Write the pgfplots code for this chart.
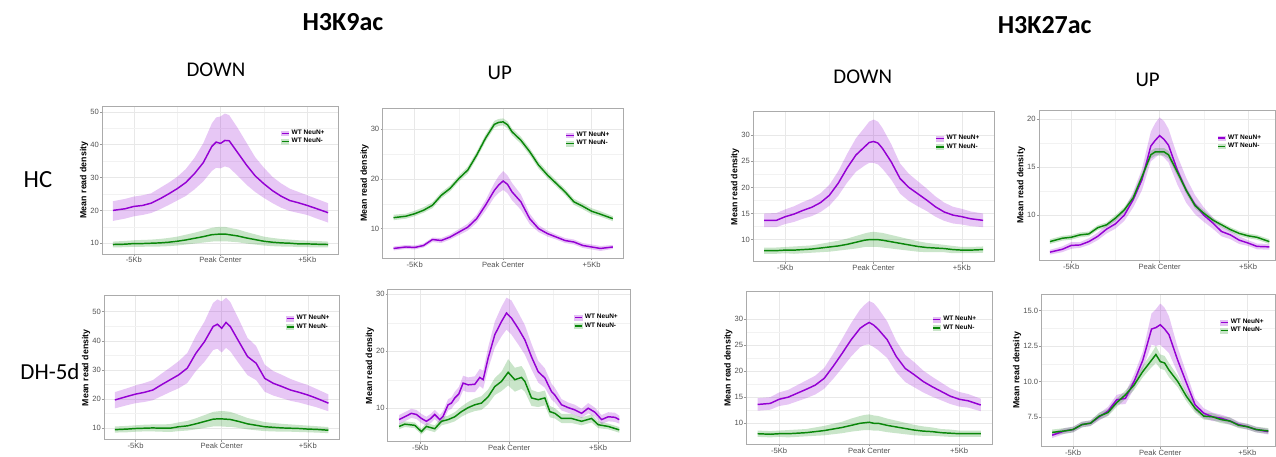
\documentclass[border=0pt]{standalone}
\usepackage{fontspec}
\setmainfont{Liberation Sans}
\newfontfamily\calibri{Carlito}
\newfontfamily\arial{Liberation Sans}
\usepackage{pgfplots}
\usepgfplotslibrary{fillbetween}
\usepackage{pgfplotstable}
\pgfplotsset{compat=1.18}
\definecolor{vio}{RGB}{148,0,211}
\definecolor{grn}{RGB}{10,135,10}

% ---------------- data: x, mean, lower, upper ----------------
\pgfplotstableread{
x m lo hi
-6200 20.0 16.8 22.8
-5500 20.5 17.5 23.5
-5000 21.2 18.2 24.2
-4500 21.5 18.6 24.6
-4000 22.2 19.2 25.2
-3500 23.5 20.3 26.8
-3000 25.0 21.6 28.4
-2500 26.6 23.0 30.2
-2000 28.5 24.4 32.6
-1500 31.2 26.4 36.0
-1000 34.5 28.8 40.4
-500 39.5 32.0 46.5
-250 40.8 33.0 48.3
0 40.4 32.8 48.6
250 41.3 33.4 49.5
500 41.2 33.0 49.0
1000 37.5 30.5 45.0
1500 33.8 27.8 40.6
2000 30.5 25.6 36.2
2500 28.1 23.8 33.0
3000 26.0 22.2 30.2
3500 24.3 20.8 28.2
4000 23.0 19.8 26.6
4500 22.3 19.2 25.6
5000 21.5 18.6 24.6
5500 20.6 17.6 23.6
6200 19.3 16.3 22.2
}\tAp
\pgfplotstableread{
x m lo hi
-6200 9.6 8.7 10.5
-5500 9.7 8.8 10.7
-5000 9.9 8.9 10.9
-4500 9.9 8.9 11.0
-4000 10.0 9.0 11.1
-3500 10.1 9.0 11.3
-3000 10.3 9.1 11.6
-2500 10.6 9.3 12.0
-2000 11.0 9.6 12.6
-1500 11.5 9.9 13.2
-1000 12.0 10.2 13.9
-500 12.6 10.5 14.7
-250 12.7 10.6 14.9
0 12.8 10.6 15.0
250 12.8 10.6 15.0
500 12.6 10.5 14.7
1000 12.2 10.3 14.2
1500 11.6 9.9 13.4
2000 11.1 9.6 12.7
2500 10.6 9.3 12.0
3000 10.3 9.1 11.6
3500 10.1 9.0 11.3
4000 10.0 9.0 11.1
4500 9.8 8.8 10.9
5000 9.8 8.8 10.8
5500 9.7 8.7 10.7
6200 9.6 8.7 10.5
}\tAg
\pgfplotstableread{
x m lo hi
-6200 6.0 5.6 6.4
-5500 6.3 5.9 6.7
-5000 6.2 5.8 6.6
-4500 6.6 6.2 7.0
-4000 7.8 7.3 8.2
-3500 7.6 7.1 8.1
-3000 8.3 7.8 8.8
-2500 9.3 8.7 9.9
-2000 10.3 9.6 11.0
-1500 12.0 11.2 12.8
-1000 14.7 13.6 15.7
-500 17.7 16.3 19.2
-250 18.8 17.2 20.6
0 19.6 17.8 21.6
250 18.9 17.1 20.7
500 17.4 15.7 19.2
1000 15.4 13.8 16.9
1500 12.0 10.9 13.0
2000 10.0 9.3 10.7
2500 9.0 8.4 9.6
3000 8.3 7.8 8.8
3500 7.6 7.1 8.1
4000 7.3 6.8 7.8
4500 6.6 6.1 7.1
5000 6.3 5.8 6.8
5500 6.0 5.5 6.5
6200 6.3 5.9 6.7
}\tBp
\pgfplotstableread{
x m lo hi
-6200 12.2 11.7 12.8
-5500 12.5 12.0 13.0
-5000 13.0 12.5 13.6
-4500 13.7 13.2 14.3
-4000 14.7 14.1 15.3
-3500 16.7 16.1 17.3
-3000 18.1 17.5 18.7
-2500 20.1 19.5 20.7
-2000 21.8 21.1 22.5
-1500 24.8 24.1 25.5
-1000 28.2 27.5 28.9
-500 31.0 30.3 31.7
-250 31.4 30.7 32.1
0 31.5 30.8 32.2
250 30.9 30.2 31.6
500 29.5 28.8 30.2
1000 27.8 27.1 28.5
1500 25.5 24.8 26.2
2000 22.8 22.1 23.5
2500 20.8 20.2 21.5
3000 19.1 18.5 19.7
3500 17.4 16.8 18.0
4000 15.4 14.8 16.0
4500 14.5 13.9 15.1
5000 13.5 12.9 14.1
5500 12.9 12.4 13.5
6200 12.0 11.5 12.5
}\tBg
\pgfplotstableread{
x m lo hi
-6200 13.7 12.4 15.0
-5500 13.7 12.4 15.1
-5000 14.4 13.0 15.8
-4500 14.9 13.4 16.4
-4000 15.6 14.0 17.2
-3500 16.2 14.5 17.9
-3000 17.1 15.3 18.9
-2500 18.5 16.5 20.5
-2000 20.8 18.4 23.1
-1500 23.7 20.9 26.4
-1000 26.2 23.0 29.4
-500 27.8 24.2 31.5
-250 28.6 24.7 32.6
0 28.8 24.7 33.0
250 28.5 24.4 32.6
500 27.5 23.6 31.4
1000 24.9 21.5 28.3
1500 21.7 18.8 24.6
2000 20.0 17.4 22.6
2500 18.8 16.4 21.2
3000 17.6 15.5 19.8
3500 16.3 14.4 18.3
4000 15.3 13.6 17.1
4500 14.7 13.1 16.3
5000 14.4 12.9 15.9
5500 14.0 12.6 15.4
6200 13.7 12.4 15.0
}\tCp
\pgfplotstableread{
x m lo hi
-6200 7.9 7.3 8.5
-5500 7.9 7.3 8.5
-5000 8.0 7.4 8.6
-4500 8.0 7.3 8.7
-4000 8.1 7.4 8.8
-3500 8.2 7.5 8.9
-3000 8.4 7.6 9.2
-2500 8.6 7.7 9.5
-2000 8.8 7.9 9.8
-1500 9.1 8.1 10.2
-1000 9.5 8.3 10.7
-500 9.9 8.6 11.2
-250 10.0 8.6 11.4
0 10.0 8.6 11.5
250 10.0 8.6 11.4
500 9.9 8.5 11.3
1000 9.6 8.3 10.9
1500 9.3 8.1 10.5
2000 9.0 7.9 10.1
2500 8.7 7.7 9.7
3000 8.5 7.6 9.4
3500 8.4 7.6 9.2
4000 8.3 7.6 9.0
4500 8.1 7.4 8.8
5000 8.0 7.4 8.6
5500 8.0 7.4 8.6
6200 8.1 7.5 8.7
}\tCg
\pgfplotstableread{
x m lo hi
-6200 6.15 5.9 6.4
-5500 6.45 6.15 6.75
-5000 6.85 6.5 7.2
-4500 6.9 6.6 7.2
-4000 7.25 6.9 7.6
-3500 7.8 7.4 8.2
-3000 8.55 8.1 9.0
-2500 9.1 8.6 9.6
-2000 10.0 9.4 10.6
-1500 11.6 10.8 12.4
-1000 13.7 12.6 14.8
-500 17.2 15.6 18.7
-250 17.8 16.0 19.6
0 18.3 16.4 20.2
250 17.9 16.0 19.8
500 17.3 15.5 19.0
1000 14.7 13.2 16.2
1500 12.6 11.3 13.9
2000 11.1 10.1 12.1
2500 10.0 9.3 10.8
3000 9.2 8.6 9.8
3500 8.3 7.8 8.8
4000 7.95 7.5 8.4
4500 7.4 7.0 7.8
5000 7.1 6.8 7.4
5500 6.75 6.45 7.05
6200 6.7 6.4 7.0
}\tDp
\pgfplotstableread{
x m lo hi
-6200 7.25 7.0 7.5
-5500 7.6 7.35 7.85
-5000 7.7 7.45 7.95
-4500 7.95 7.7 8.2
-4000 8.05 7.8 8.3
-3500 8.7 8.45 8.95
-3000 9.0 8.75 9.25
-2500 9.7 9.4 10.0
-2000 10.55 10.25 10.85
-1500 11.8 11.45 12.15
-1000 14.0 13.6 14.4
-500 16.3 15.9 16.7
-250 16.6 16.2 17.0
0 16.6 16.2 17.0
250 16.6 16.2 17.0
500 16.3 15.9 16.7
1000 14.5 14.1 14.9
1500 12.6 12.25 12.95
2000 11.0 10.7 11.3
2500 10.2 9.9 10.5
3000 9.5 9.25 9.75
3500 9.0 8.75 9.25
4000 8.5 8.25 8.75
4500 8.1 7.85 8.35
5000 7.85 7.6 8.1
5500 7.7 7.45 7.95
6200 7.25 7.0 7.5
}\tDg
\pgfplotstableread{
x m lo hi
-6200 19.7 16.8 22.4
-5500 20.9 17.9 23.7
-5000 21.7 18.6 24.7
-4500 22.3 19.0 25.5
-4000 23.1 19.6 26.5
-3500 24.9 21.0 28.7
-3000 26.6 22.4 30.8
-2500 28.3 23.7 33.0
-2000 30.6 25.5 35.8
-1500 35.7 29.6 41.7
-1000 39.7 32.8 46.6
-500 44.9 36.8 53.0
-250 45.7 37.3 54.2
0 44.3 36.0 53.5
250 46.3 37.6 54.8
500 44.9 36.4 53.3
1000 39.7 32.2 47.3
1500 34.6 28.2 41.0
2000 32.3 26.5 38.2
2500 27.1 22.5 31.8
3000 25.4 21.2 29.6
3500 24.3 20.3 28.3
4000 23.1 19.4 26.9
4500 22.3 18.8 25.8
5000 21.4 18.0 24.8
5500 20.3 17.2 23.5
6200 18.6 15.8 21.6
}\tEp
\pgfplotstableread{
x m lo hi
-6200 9.5 8.5 10.6
-5500 9.7 8.6 10.8
-5000 9.9 8.8 11.0
-4500 10.0 8.9 11.2
-4000 10.1 8.9 11.3
-3500 10.0 8.8 11.3
-3000 10.0 8.7 11.4
-2500 10.5 9.0 12.0
-2000 10.8 9.2 12.5
-1500 11.5 9.6 13.4
-1000 12.3 10.1 14.5
-500 13.1 10.6 15.6
-250 13.2 10.6 15.8
0 13.2 10.6 15.9
250 13.1 10.5 15.8
500 13.0 10.5 15.6
1000 12.3 10.1 14.6
1500 11.5 9.6 13.5
2000 11.0 9.3 12.8
2500 10.5 9.0 12.1
3000 10.3 8.9 11.8
3500 10.1 8.8 11.5
4000 10.0 8.8 11.3
4500 9.9 8.7 11.1
5000 9.7 8.6 10.9
5500 9.6 8.5 10.7
6200 9.3 8.3 10.4
}\tEg
\pgfplotstableread{
x m lo hi
-6191 8.0 7.2 8.8
-5872 8.5 7.7 9.3
-5497 9.1 8.3 9.9
-5215 8.9 8.1 9.7
-4934 8.2 7.4 9.0
-4652 7.7 6.9 8.5
-4409 8.2 7.4 9.0
-4183 8.9 8.1 9.7
-3902 8.0 7.2 8.8
-3714 8.6 7.7 9.5
-3433 10.6 9.6 11.6
-3245 10.9 9.9 11.9
-3057 11.8 10.7 12.9
-2833 12.5 11.3 13.7
-2589 14.4 13.1 15.7
-2307 14.1 12.8 15.4
-1932 14.2 12.8 15.6
-1651 15.4 13.9 16.9
-1463 15.0 13.4 16.6
-1182 18.8 16.9 20.7
-807 22.9 20.6 25.2
-432 25.2 22.6 27.8
-150 26.7 23.8 29.4
131 25.8 22.9 28.9
507 24.0 21.2 26.8
882 22.0 19.4 24.6
1257 19.0 16.8 21.3
1632 16.4 14.5 18.3
2007 15.3 13.6 17.0
2383 12.9 11.5 14.3
2570 12.3 11.0 13.6
2945 10.6 9.6 11.6
3321 10.1 9.2 11.0
3696 9.7 8.8 10.6
4071 9.1 8.3 9.9
4446 10.0 9.1 10.9
4821 9.3 8.5 10.1
5197 8.0 7.2 8.8
5572 8.5 7.7 9.3
5947 8.4 7.6 9.2
6191 8.0 7.3 8.7
}\tFp
\pgfplotstableread{
x m lo hi
-6191 6.8 6.3 7.3
-5872 7.2 6.7 7.7
-5309 7.0 6.5 7.5
-4934 5.9 5.4 6.4
-4652 6.8 6.2 7.4
-4183 6.4 5.8 7.0
-3808 7.7 7.0 8.4
-3433 8.0 7.3 8.7
-3057 8.5 7.7 9.3
-2682 9.4 8.5 10.3
-2307 10.1 9.1 11.1
-1932 10.6 9.5 11.7
-1557 10.9 9.7 12.1
-1182 12.0 10.7 13.3
-807 13.8 12.3 15.3
-432 14.7 13.0 16.4
-56 16.3 14.0 18.6
319 15.0 12.9 17.1
694 15.4 13.4 17.4
882 14.7 12.9 16.5
1257 11.8 10.4 13.2
1632 11.5 10.2 12.8
2007 11.8 10.5 13.1
2289 9.4 8.4 10.4
2570 9.1 8.2 10.0
2945 8.2 7.4 9.0
3508 8.2 7.4 9.0
4071 7.7 7.0 8.4
4634 8.2 7.5 8.9
5009 7.1 6.5 7.7
5572 6.8 6.3 7.3
6191 6.2 5.7 6.7
}\tFg
\pgfplotstableread{
x m lo hi
-6200 13.6 12.4 14.8
-5500 13.8 12.6 15.0
-5000 14.6 13.3 15.9
-4500 15.0 13.6 16.4
-4000 15.75 14.2 17.3
-3500 16.5 14.8 18.2
-3000 17.3 15.5 19.1
-2500 18.6 16.6 20.6
-2000 20.9 18.5 23.3
-1500 23.4 20.6 26.2
-1000 26.0 22.8 29.2
-500 28.2 24.6 31.8
-250 28.8 25.0 32.7
0 29.3 25.1 33.4
250 28.8 24.6 33.0
500 28.0 24.0 32.0
1000 26.0 22.5 29.5
1500 22.8 19.8 25.8
2000 20.5 17.9 23.1
2500 19.3 16.9 21.7
3000 18.0 15.9 20.1
3500 17.0 15.1 18.9
4000 16.1 14.4 17.8
4500 15.2 13.7 16.7
5000 14.6 13.2 16.0
5500 14.3 13.0 15.6
6200 13.5 12.3 14.7
}\tGp
\pgfplotstableread{
x m lo hi
-6200 8.0 7.4 8.6
-5500 7.9 7.3 8.5
-5000 8.0 7.4 8.6
-4500 8.0 7.3 8.7
-4000 8.1 7.4 8.8
-3500 8.2 7.5 8.9
-3000 8.4 7.6 9.2
-2500 8.6 7.7 9.5
-2000 8.9 7.9 9.9
-1500 9.2 8.1 10.3
-1000 9.6 8.4 10.9
-500 10.0 8.6 11.4
-250 10.1 8.7 11.6
0 10.2 8.7 11.7
250 10.0 8.6 11.5
500 10.0 8.6 11.4
1000 9.6 8.3 10.9
1500 9.3 8.1 10.5
2000 9.0 7.9 10.1
2500 8.7 7.7 9.7
3000 8.5 7.6 9.4
3500 8.4 7.6 9.2
4000 8.2 7.5 8.9
4500 8.1 7.4 8.8
5000 8.0 7.4 8.6
5500 8.0 7.4 8.6
6200 8.0 7.4 8.6
}\tGg
\pgfplotstableread{
x m lo hi
-6200 6.2 6.0 6.4
-5500 6.5 6.3 6.7
-5000 6.6 6.4 6.8
-4500 6.95 6.75 7.15
-4000 7.05 6.85 7.25
-3500 7.5 7.25 7.75
-3000 7.9 7.6 8.2
-2500 8.7 8.35 9.05
-2000 8.8 8.4 9.2
-1500 10.0 9.5 10.5
-1000 11.5 10.9 12.1
-500 13.7 12.6 14.8
-250 13.8 12.5 15.1
0 14.0 12.6 15.5
250 13.7 12.3 15.2
500 13.3 12.0 14.6
1000 11.5 10.6 12.4
1500 9.9 9.2 10.6
2000 8.35 7.9 8.8
2500 7.75 7.4 8.1
3000 7.5 7.2 7.8
3500 7.4 7.15 7.65
4000 7.2 6.95 7.45
4500 6.95 6.75 7.15
5000 6.8 6.6 7.0
5500 6.6 6.4 6.8
6200 6.45 6.25 6.65
}\tHp
\pgfplotstableread{
x m lo hi
-6200 6.4 6.2 6.6
-5500 6.5 6.3 6.7
-5000 6.6 6.4 6.8
-4500 6.95 6.75 7.15
-4000 7.05 6.85 7.25
-3500 7.55 7.3 7.8
-3000 7.8 7.55 8.05
-2500 8.5 8.2 8.8
-2000 9.05 8.75 9.35
-1500 9.75 9.4 10.1
-1000 10.7 10.3 11.1
-500 11.5 11.0 12.0
-250 11.9 11.3 12.5
0 11.4 10.9 11.9
250 11.3 10.8 11.8
500 10.8 10.3 11.3
1000 10.0 9.6 10.4
1500 8.95 8.6 9.3
2000 8.1 7.8 8.4
2500 7.55 7.3 7.8
3000 7.5 7.25 7.75
3500 7.3 7.05 7.55
4000 7.2 6.95 7.45
4500 6.9 6.7 7.1
5000 6.8 6.6 7.0
5500 6.6 6.4 6.8
6200 6.5 6.3 6.7
}\tHg

% ---------------- styles ----------------
\pgfplotsset{
  panel/.style={
    scale only axis, anchor=north west,
    xmin=-6820, xmax=6820,
    xtick={-5000,0,5000}, xticklabels={-5Kb,Peak Center,+5Kb},
    scaled x ticks=false, scaled y ticks=false,
    minor x tick num=1, minor y tick num=1,
    grid=both,
    major grid style={black!9, line width=0.45pt},
    minor grid style={black!5, line width=0.3pt},
    axis line style={black!33, line width=0.6pt},
    tick align=outside, tick pos=left,
    major tick length=1.5pt, minor tick length=0pt,
    tick style={black!40, line width=0.4pt},
    ticklabel style={font=\arial\fontsize{5.7}{6.5}\selectfont, text=black!68, inner sep=0.8pt},
    /pgf/number format/assume math mode=true,
    ylabel={Mean read density},
    ylabel style={font=\arial\bfseries\fontsize{6.6}{7.5}\selectfont, inner sep=0.6pt},
    legend style={draw=none, fill=none, at={(1,1)}, anchor=north east,
      font=\arial\bfseries\fontsize{4.9}{5.5}\selectfont,
      inner sep=0pt, row sep=0pt,
      nodes={inner sep=0.6pt},
      /tikz/every odd column/.append style={column sep=1.2pt}},
    legend cell align=left,
  }
}
\newcommand{\band}[3]{%
  \addplot[draw=none, forget plot, name path=lo#3] table[x=x,y=lo]{#1};
  \addplot[draw=none, forget plot, name path=hi#3] table[x=x,y=hi]{#1};
  \addplot[fill=#2, fill opacity=0.22, draw=none, forget plot] fill between[of=lo#3 and hi#3];
}
\newcommand{\mline}[2]{\addplot[#2, line width=1.1pt, forget plot] table[x=x,y=m]{#1};}
\newcommand{\leg}{%
  \addlegendimage{legend image code/.code={\fill[vio!25](0pt,-1.7pt) rectangle (5.3pt,1.7pt);\draw[vio,line width=1.1pt](0pt,0pt)--(5.3pt,0pt);}}
  \addlegendentry{WT NeuN+}
  \addlegendimage{legend image code/.code={\fill[grn!22](0pt,-1.7pt) rectangle (5.3pt,1.7pt);\draw[grn,line width=1.1pt](0pt,0pt)--(5.3pt,0pt);}}
  \addlegendentry{WT NeuN-}
}
\newcommand{\panelplots}[3]{% purple table, green table, id
  \band{#1}{vio}{p#3}
  \band{#2}{grn}{g#3}
  \mline{#1}{vio}
  \mline{#2}{grn}
  \leg
}

\begin{document}
\begin{tikzpicture}
\path (0,0) rectangle (957pt,-341.25pt);

% titles
\node[anchor=base, font=\calibri\bfseries\fontsize{19.5}{22}\selectfont] at (257.25pt,-22.9pt) {H3K9ac};
\node[anchor=base, font=\calibri\bfseries\fontsize{19.5}{22}\selectfont] at (783.75pt,-25.1pt) {H3K27ac};
\node[anchor=base, font=\calibri\fontsize{15.7}{18}\selectfont] at (162pt,-57.5pt) {DOWN};
\node[anchor=base, font=\calibri\fontsize{15.7}{18}\selectfont] at (375pt,-59.8pt) {UP};
\node[anchor=base, font=\calibri\fontsize{15.7}{18}\selectfont] at (647.25pt,-62.8pt) {DOWN};
\node[anchor=base, font=\calibri\fontsize{15.7}{18}\selectfont] at (861pt,-65pt) {UP};
\node[anchor=base, font=\calibri\fontsize{18.5}{21}\selectfont] at (28.5pt,-140.6pt) {HC};
\node[anchor=base, font=\calibri\fontsize{17.2}{21}\selectfont] at (37.5pt,-284.5pt) {DH-5d};

% Row 1
\begin{axis}[panel, at={(76.7pt,-79.5pt)}, width=177.5pt, height=111pt,
  ymin=6.74, ymax=51.8, ytick={10,20,30,40,50},
  legend style={xshift=-9.9pt, yshift=-17.35pt}]
  \panelplots{\tAp}{\tAg}{a}
\end{axis}
\begin{axis}[panel, at={(287pt,-81pt)}, width=181pt, height=112.7pt,
  ymin=4.04, ymax=34.3, ytick={10,20,30},
  legend style={xshift=-9.9pt, yshift=-17.35pt}]
  \panelplots{\tBp}{\tBg}{b}
\end{axis}
\begin{axis}[panel, at={(565pt,-83.8pt)}, width=180.75pt, height=112.5pt,
  ymin=5.79, ymax=34.5, ytick={10,15,20,25,30},
  legend style={xshift=-10.1pt, yshift=-17.05pt}]
  \panelplots{\tCp}{\tCg}{c}
\end{axis}
\begin{axis}[panel, at={(779.5pt,-82.5pt)}, width=177.5pt, height=113pt,
  xmax=6556,
  ymin=5.27, ymax=20.97, ytick={10,15,20},
  legend style={xshift=-10.1pt, yshift=-17.9pt}]
  \panelplots{\tDp}{\tDg}{d}
\end{axis}

% Row 2
\begin{axis}[panel, at={(78.2pt,-221.8pt)}, width=176.25pt, height=108.2pt,
  ymin=6.0, ymax=55.5, ytick={10,20,30,40,50},
  legend style={xshift=-6.4pt, yshift=-14.05pt}]
  \panelplots{\tEp}{\tEg}{e}
\end{axis}
\begin{axis}[panel, at={(291pt,-217.3pt)}, width=182pt, height=114pt,
  ymin=4.14, ymax=30.8, ytick={10,20,30},
  legend style={xshift=-8.7pt, yshift=-17.8pt}]
  \panelplots{\tFp}{\tFg}{f}
\end{axis}
\begin{axis}[panel, at={(560pt,-218.8pt)}, width=184.2pt, height=114.5pt,
  ymin=5.98, ymax=35.2, ytick={10,15,20,25,30},
  legend style={xshift=-11.1pt, yshift=-17.8pt}]
  \panelplots{\tGp}{\tGg}{g}
\end{axis}
\begin{axis}[panel, at={(781.3pt,-220.7pt)}, width=175.7pt, height=114.3pt,
  xmax=6620,
  ymin=5.4, ymax=16.16, ytick={7.5,10,12.5,15},
  yticklabel style={/pgf/number format/.cd, fixed, fixed zerofill, precision=1},
  legend style={xshift=-8.2pt, yshift=-18.1pt}]
  \panelplots{\tHp}{\tHg}{h}
\end{axis}
\end{tikzpicture}
\end{document}
